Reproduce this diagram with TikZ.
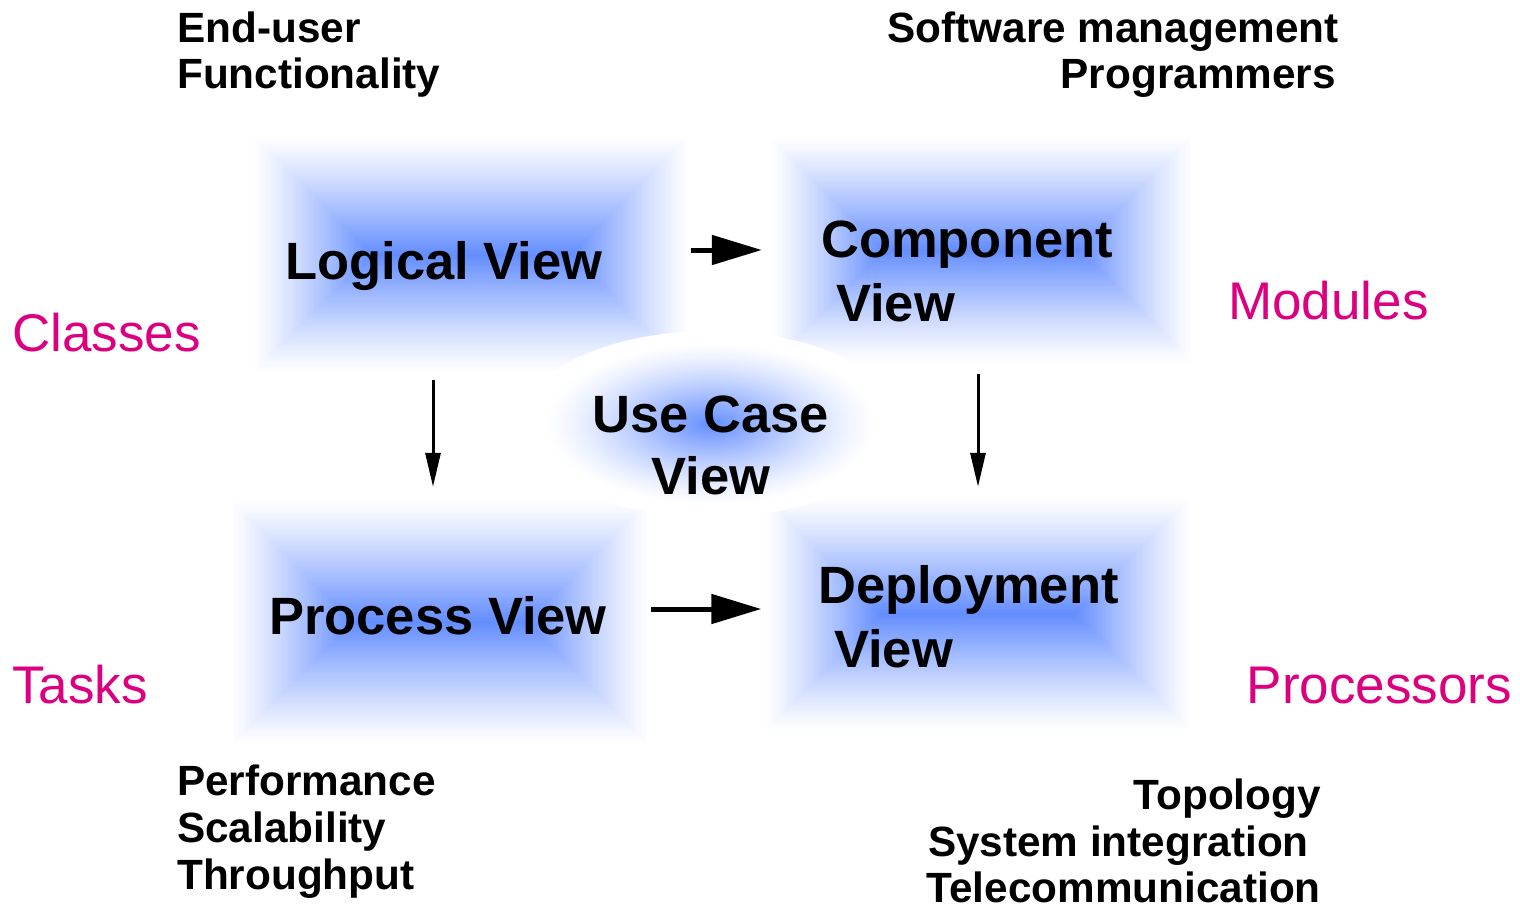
\documentclass[tikz,border=0pt]{standalone}
\usepackage{fontspec}
\setmainfont{Liberation Sans}
\usetikzlibrary{arrows.meta,calc,shapes.geometric}
\definecolor{glow}{RGB}{98,140,255}
\definecolor{tagcol}{RGB}{220,0,128}
\tikzset{
  glowbase/.style={rectangle, inner sep=0pt, draw=none},
  viewlabel/.style={font=\bfseries\fontsize{52.5}{62}\selectfont, inner sep=0pt, anchor=base west},
  note/.style={font=\bfseries\fontsize{42.3}{46}\selectfont, inner sep=0pt},
  tag/.style={font=\fontsize{53}{60}\selectfont, text=tagcol, inner sep=0pt},
  bigarrow/.style={-{Triangle[length=50pt,width=29pt]}, line width=5pt},
  thinarrow/.style={-{Triangle[length=34pt,width=15pt]}, line width=3pt},
}
\newcommand\glowbox[5]{%
  \node[glowbase, minimum width=#4pt, minimum height=#5pt] (#1) at (#2,#3) {};
  \pgfmathsetmacro\gh{#5/2}
  \foreach \gi in {0,...,50}{
    \pgfmathsetmacro\gd{\gi/50*\gh}
    \pgfmathsetmacro\gp{100*(\gi/50)^1.2}
    \fill[glow!\gp!white] ($(#1.north west)+(\gd,\gd)$) rectangle ($(#1.south east)+(-\gd,-\gd)$);
  }
}
\begin{document}
\begin{tikzpicture}[x=1pt,y=-1pt]
\useasboundingbox (0,0) rectangle (1520,908);
\fill[white] (0,0) rectangle (1520,908);

% glowing boxes
\glowbox{logical}{471.5}{255}{439}{240}
\glowbox{component}{981.5}{250}{425}{230}
\glowbox{process}{440}{622}{422}{248}
\glowbox{deployment}{978}{614}{429}{236}

% use case ellipse
\node[ellipse, inner sep=0pt, minimum width=380pt, minimum height=186pt] (usecase) at (711,424) {};
\fill[white] (usecase.center) ellipse [x radius=190, y radius=93];
\foreach \gi in {0,...,45}{
  \pgfmathsetmacro\gs{0.88*(1-\gi/45)}
  \pgfmathsetmacro\gp{100*(\gi/45)^1.3}
  \fill[glow!\gp!white] (usecase.center) ellipse [x radius=190*\gs, y radius=93*\gs];
}

% helper coordinates
\coordinate (ly) at (0,250);
\coordinate (py) at (0,609);
\coordinate (lx) at (433,0);
\coordinate (cx) at (978,0);

% connectors
\draw[bigarrow, shorten >=7pt] (logical.east |- ly) -- (component.west |- ly);
\draw[bigarrow, shorten >=2pt] (process.east |- py) -- (deployment.west |- py);
\draw[thinarrow, shorten <=5pt, shorten >=11pt] (logical.south -| lx) -- (process.north -| lx);
\draw[thinarrow, shorten <=9pt, shorten >=9pt] (component.south -| cx) -- (deployment.north -| cx);

% view labels
\node[viewlabel] (tlogical) at (285,279) {Logical View};
\node[viewlabel] (tcomp1) at (821,257) {Component};
\node[viewlabel] (tcomp2) at (836,321) {View};
\node[viewlabel, anchor=base] (tuse1) at (711,432) {Use Case};
\node[viewlabel, anchor=base] (tuse2) at (711,494) {View};
\node[viewlabel] (tprocess) at (269,634) {Process View};
\node[viewlabel] (tdep1) at (818,603) {Deployment};
\node[viewlabel] (tdep2) at (834,667) {View};

% notes
\node[note, anchor=base west] (n1) at (177,42) {End-user};
\node[note, anchor=base west] (n2) at (177,88) {Functionality};
\node[note, anchor=base east] (n3) at (1339,42) {Software management};
\node[note, anchor=base east] (n4) at (1336,88) {Programmers};
\node[note, anchor=base west] (n5) at (177,795) {Performance};
\node[note, anchor=base west] (n6) at (177,842) {Scalability};
\node[note, anchor=base west] (n7) at (177,889) {Throughput};
\node[note, anchor=base east] (n8) at (1321,809) {Topology};
\node[note, anchor=base east] (n9) at (1309,856) {System integration};
\node[note, anchor=base east] (n10) at (1321,902) {Telecommunication};

% tags
\node[tag, anchor=base west] (classes) at (12,351) {Classes};
\node[tag, anchor=base west] (modules) at (1228,319) {Modules};
\node[tag, anchor=base west] (tasks) at (12,703) {Tasks};
\node[tag, anchor=base east] (processors) at (1512,703) {Processors};
\end{tikzpicture}
\end{document}
